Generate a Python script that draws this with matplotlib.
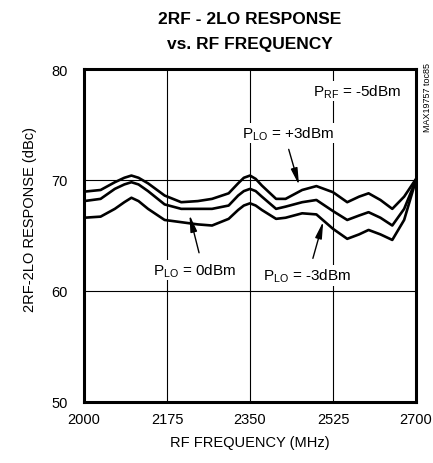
import matplotlib
matplotlib.use("Agg")
import matplotlib.pyplot as plt
from matplotlib import font_manager

# datos (MHz, dBc)
freq = [2000, 2035, 2065, 2085, 2100, 2115, 2135, 2170, 2205, 2240, 2270, 2305,
        2325, 2337, 2350, 2362, 2375, 2405, 2425, 2460, 2490, 2525, 2555, 2580,
        2600, 2625, 2650, 2675, 2700]
plo_p3 = [68.95, 69.1, 69.8, 70.2, 70.4, 70.2, 69.7, 68.6, 68.0, 68.1, 68.3, 68.8,
          69.7, 70.2, 70.4, 70.1, 69.5, 68.3, 68.3, 69.1, 69.45, 68.9, 68.0, 68.5,
          68.8, 68.2, 67.4, 68.5, 70.1]
plo_0 = [68.1, 68.3, 69.2, 69.6, 69.8, 69.6, 69.0, 67.8, 67.4, 67.4, 67.4, 67.7,
         68.6, 69.0, 69.2, 69.0, 68.5, 67.4, 67.6, 68.0, 68.2, 67.2, 66.4, 66.8,
         67.1, 66.6, 65.9, 67.4, 70.0]
plo_m3 = [66.6, 66.7, 67.4, 68.0, 68.4, 68.1, 67.4, 66.4, 66.2, 66.0, 65.9, 66.5,
          67.3, 67.7, 67.9, 67.7, 67.3, 66.5, 66.6, 67.0, 66.9, 65.6, 64.7, 65.1,
          65.5, 65.1, 64.6, 66.4, 70.0]

xticks = [2000, 2175, 2350, 2525, 2700]
yticks = [50, 60, 70, 80]

plt.rcParams['font.family'] = ['Liberation Sans', 'DejaVu Sans']
plt.rcParams['mathtext.default'] = 'regular'

names = {f.name for f in font_manager.fontManager.ttflist}
if 'Liberation Sans Narrow' in names:
    title_font, title_size = 'Liberation Sans Narrow', 15
else:
    title_font, title_size = 'Liberation Sans', 12.5

fig = plt.figure(figsize=(4.33, 4.64), dpi=100)
ax = fig.add_axes([84/433, 61/464, 332/433, 333/464])

for serie in (plo_p3, plo_0, plo_m3):
    ax.plot(freq, serie, color='black', lw=1.9, solid_joinstyle='round', zorder=3)

ax.set_xlim(2000, 2700)
ax.set_ylim(50, 80)
ax.set_xticks(xticks)
ax.set_yticks(yticks)
ax.tick_params(length=0, labelsize=10.5)
ax.tick_params(axis='y', pad=12)
ax.tick_params(axis='x', pad=7)
ax.grid(True, color='black', lw=0.8, zorder=1)
ax.set_axisbelow(True)
for s in ax.spines.values():
    s.set_linewidth(2.2)
    s.set_zorder(5)

caja = dict(facecolor='white', edgecolor='none', pad=1)
ax.text(2482, 78.0, r'P$_{RF}$ = -5dBm', fontsize=11, ha='left', va='center', bbox=caja, zorder=4)

flecha = dict(arrowstyle='-|>,head_length=1.0,head_width=0.2', color='black', lw=1.0)
ax.text(2334, 74.2, r'P$_{LO}$ = +3dBm', fontsize=11, ha='left', va='center', bbox=caja, zorder=4)
ax.annotate('', xy=(2455, 69.3), xytext=(2430, 73.0), arrowprops=flecha, zorder=4)

ax.text(2145, 61.9, r'P$_{LO}$ = 0dBm', fontsize=11, ha='left', va='center', bbox=caja, zorder=4)
ax.annotate('', xy=(2221, 67.1), xytext=(2244, 63.2), arrowprops=flecha, zorder=4)

ax.text(2377, 61.4, r'P$_{LO}$ = -3dBm', fontsize=11, ha='left', va='center', bbox=caja, zorder=4)
ax.annotate('', xy=(2506, 66.5), xytext=(2481, 62.7), arrowprops=flecha, zorder=4)

fig.text(250/433, 1 - 19/464, '2RF - 2LO RESPONSE', family=[title_font, 'DejaVu Sans'],
         fontsize=title_size, fontweight='bold', ha='center', va='center')
fig.text(250/433, 1 - 45/464, 'vs. RF FREQUENCY', family=[title_font, 'DejaVu Sans'],
         fontsize=title_size, fontweight='bold', ha='center', va='center')
fig.text(250/433, 1 - 443/464, 'RF FREQUENCY (MHz)', fontsize=10.5, ha='center', va='center')
fig.text(30/433, 1 - 219/464, '2RF-2LO RESPONSE (dBc)', fontsize=10.5, rotation=90,
         ha='center', va='center')
fig.text(427/433, 1 - 98/464, 'MAX19757 toc85', fontsize=6.5, rotation=90,
         ha='center', va='center')

fig.savefig('out.png', dpi=100)
